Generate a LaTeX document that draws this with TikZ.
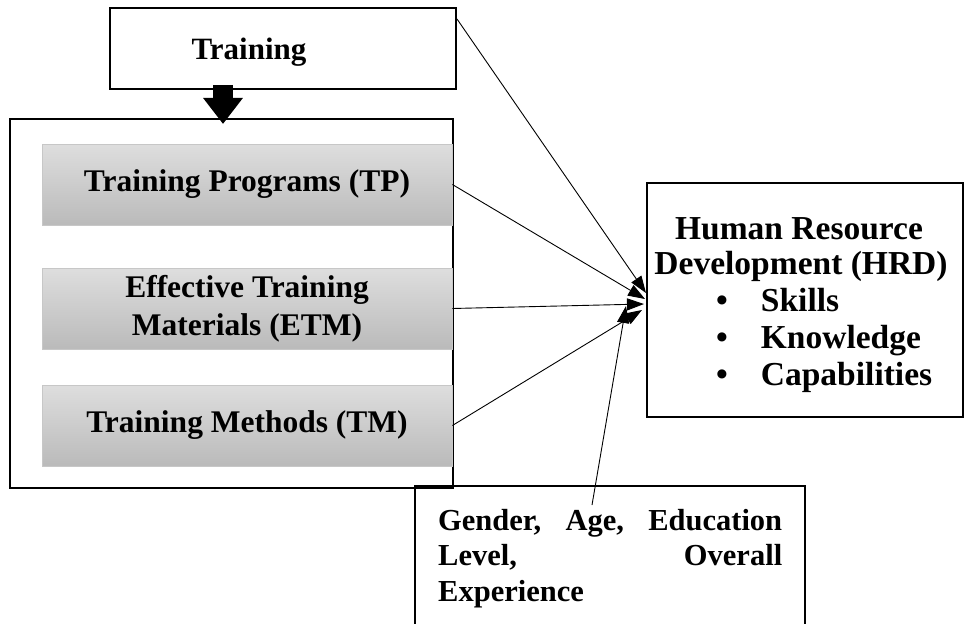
\documentclass[tikz,border=0pt]{standalone}
\usepackage{fontspec}
\setmainfont{Liberation Serif}
\usetikzlibrary{arrows.meta,calc}
\begin{document}
\begin{tikzpicture}[x=1pt,y=-1pt,
  frame/.style={draw=black,line width=2pt,inner sep=0pt},
  factor/.style={draw=black!22,line width=0.8pt,top color=black!13,bottom color=black!27,
    minimum width=410pt,minimum height=81pt,inner sep=0pt,align=center,
    font=\fontsize{31.5pt}{38pt}\selectfont\bfseries},
  txt/.style={font=\fontsize{31pt}{36pt}\selectfont\bfseries,inner sep=0pt},
  hrdtxt/.style={font=\fontsize{33.5pt}{36pt}\selectfont\bfseries,inner sep=0pt},
  link/.style={line width=0.9pt,-{Triangle[length=17pt,width=12pt]}}]
\useasboundingbox (0,0) rectangle (965,623);
\clip (0,0) rectangle (965,623);
\fill[white] (0,0) rectangle (965,623);

% training block
\node[frame,minimum width=346pt,minimum height=81pt] (training) at (283,48.5) {};
\node[txt] (trainingtext) at (249,52) {Training};

% group of training factors
\node[frame,minimum width=443pt,minimum height=369pt] (group) at (231.5,303.5) {};
\node[factor] (tp) at (247,184.5) {Training Programs (TP)};
\node[factor] (etm) at (247,308.5) {Effective Training\\Materials (ETM)};
\node[factor] (tm) at (247,425.5) {Training Methods (TM)};

% block arrow from training into the group
\coordinate (dtop) at (223,85);
\coordinate (dtip) at (223,124);
\draw[line width=20pt,-{Triangle[length=26pt,width=38pt]}] (dtop) -- (dtip);

% human resource development
\node[frame,minimum width=316pt,minimum height=234pt] (hrd) at (805,300) {};
\node[hrdtxt,anchor=base] (h1) at (799,239) {Human Resource};
\node[hrdtxt,anchor=base] (h2) at (801,274) {Development (HRD)};
\node[hrdtxt,anchor=base west] (b1) at (716,311) {\textbullet\hspace{33pt}Skills};
\node[hrdtxt,anchor=base west] (b2) at (716,348) {\textbullet\hspace{33pt}Knowledge};
\node[hrdtxt,anchor=base west] (b3) at (716,385) {\textbullet\hspace{33pt}Capabilities};

% demographic moderators
\node[frame,minimum width=390pt,minimum height=200pt] (demo) at (610,586) {};
\node[inner sep=0pt,text width=344pt,align=justify,anchor=base west,
  font=\fontsize{30.5pt}{35.5pt}\selectfont\bfseries] (demotext) at (438,530)
  {Gender, Age, Education\linebreak Level, Overall\linebreak Experience};

% connectors converging on HRD
\coordinate (e0) at (646,293);
\coordinate (e1) at (645,299);
\coordinate (e2) at (644,304);
\coordinate (e3) at (642,310);
\coordinate (e4) at (626,306);
\coordinate (s4) at (592,505);
\draw[link] ($(training.north east)+(0,12)$) -- (e0);
\draw[link] (tp.east) -- (e1);
\draw[link] (etm.east) -- (e2);
\draw[link] (tm.east) -- (e3);
\draw[link] (s4) -- (e4);
\end{tikzpicture}
\end{document}
